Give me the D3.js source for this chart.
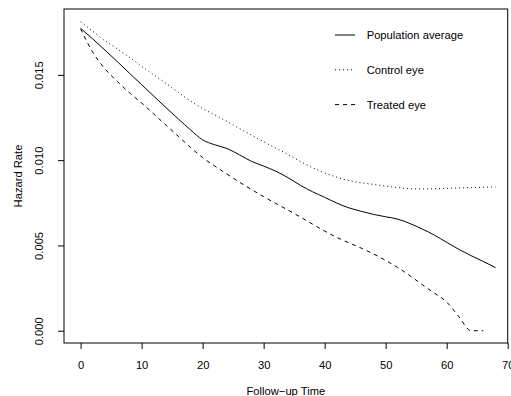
<!DOCTYPE html>
<meta charset="utf-8">
<head>
<style>
body{
	margin: 0;
	background: white;
}
text{
	font-family: "Liberation Sans", Arial, sans-serif;
	font-size: 11.2px;
	fill: black;
}
</style>
<script src="https://cdnjs.cloudflare.com/ajax/libs/d3/7.8.5/d3.min.js"></script>
</head>
<body>
<div id="vis-container"></div>
</body>
<script>
var time = [0, 2, 4, 6, 8, 10, 12, 14, 16, 18, 20, 22, 24, 26, 28, 30, 32, 34,
	36, 38, 40, 42, 44, 46, 48, 50, 52, 54, 56, 58, 60, 62, 64, 66, 68]

var populationAvg = [0.01773, 0.01710, 0.01645, 0.01578, 0.01510, 0.01442, 0.01375,
	0.01308, 0.01242, 0.01178, 0.01119, 0.01090, 0.01068, 0.01032, 0.00993, 0.00965,
	0.00935, 0.00897, 0.00853, 0.00815, 0.00782, 0.00748, 0.00720, 0.00700, 0.00682,
	0.00668, 0.00654, 0.00628, 0.00596, 0.00560, 0.00518, 0.00477, 0.00440, 0.00406,
	0.00370]

var controlEye = [0.01811, 0.01755, 0.01700, 0.01653, 0.01603, 0.01550, 0.01500,
	0.01450, 0.01398, 0.01347, 0.01302, 0.01265, 0.01227, 0.01186, 0.01147, 0.01108,
	0.01070, 0.01033, 0.00993, 0.00956, 0.00925, 0.00900, 0.00880, 0.00867, 0.00858,
	0.00848, 0.00839, 0.00833, 0.00831, 0.00832, 0.00835, 0.00837, 0.00839, 0.00841,
	0.00843]

var treatedEye = [0.01770, 0.01632, 0.01535, 0.01462, 0.01395, 0.01335, 0.01270,
	0.01205, 0.01140, 0.01075, 0.01015, 0.00965, 0.00918, 0.00872, 0.00828, 0.00786,
	0.00746, 0.00707, 0.00667, 0.00625, 0.00584, 0.00547, 0.00515, 0.00484, 0.00450,
	0.00412, 0.00370, 0.00322, 0.00270, 0.00220, 0.00168, 0.00082, 0.00000, 0.00000,
	null]

var xTicks = [0, 10, 20, 30, 40, 50, 60, 70]
var yTicks = [0.000, 0.005, 0.010, 0.015]

var seriesNames = ['Population average', 'Control eye', 'Treated eye']
var seriesDash = ['none', '1,3', '4,4']

var width = 511, height = 396
var box = {left: 64, right: 507.7, top: 9, bottom: 343}

var x = d3.scaleLinear().domain([-2.72, 70]).range([box.left, box.right])
var y = d3.scaleLinear().domain([-0.00072, 0.01886]).range([box.bottom, box.top])

var svg = d3.select('#vis-container').append('svg')
	.attr('width', width)
	.attr('height', height)

var xAxis = svg.append('g')
	.attr('transform', 'translate(0,' + box.bottom + ')')
	.call(d3.axisBottom(x).tickValues(xTicks).tickSize(6).tickPadding(12).tickSizeOuter(0))
xAxis.select('.domain').remove()

var yAxis = svg.append('g')
	.attr('transform', 'translate(' + box.left + ',0)')
	.call(d3.axisLeft(y).tickValues(yTicks).tickSize(6).tickFormat(d3.format('.3f')))
yAxis.select('.domain').remove()
yAxis.selectAll('text')
	.attr('transform', 'rotate(-90)')
	.attr('text-anchor', 'middle')
	.attr('x', 0)
	.attr('y', -20.7)
	.attr('dy', null)

svg.selectAll('.tick line').attr('stroke', 'black')
svg.selectAll('.tick text').style('font-size', '11.2px').style('font-family', '"Liberation Sans", Arial, sans-serif')

svg.append('rect')
	.attr('x', box.left)
	.attr('y', box.top)
	.attr('width', box.right - box.left)
	.attr('height', box.bottom - box.top)
	.attr('fill', 'none')
	.attr('stroke', 'black')

var allSeries = [populationAvg, controlEye, treatedEye]

for (var i = 0; i < allSeries.length; i ++){
	var values = allSeries[i]
	var line = d3.line()
		.defined(function(d, j) { return values[j] !== null })
		.x(function(d, j) { return x(time[j]) })
		.y(function(d, j) { return y(values[j]) })
		.curve(d3.curveMonotoneX)
	svg.append('path')
		.datum(values)
		.attr('d', line)
		.attr('fill', 'none')
		.attr('stroke', 'black')
		.attr('stroke-width', 1)
		.attr('stroke-dasharray', seriesDash[i])
}

svg.append('text')
	.attr('x', (box.left + box.right) / 2)
	.attr('y', 395)
	.attr('text-anchor', 'middle')
	.text('Follow\u2212up Time')

svg.append('text')
	.attr('transform', 'translate(21.7,' + ((box.top + box.bottom) / 2) + ') rotate(-90)')
	.attr('text-anchor', 'middle')
	.text('Hazard Rate')

var legendY = [35, 69.8, 104.6]
for (var i = 0; i < seriesNames.length; i ++){
	svg.append('line')
		.attr('x1', 335)
		.attr('x2', 355)
		.attr('y1', legendY[i])
		.attr('y2', legendY[i])
		.attr('stroke', 'black')
		.attr('stroke-dasharray', seriesDash[i])
	svg.append('text')
		.attr('x', 366.7)
		.attr('y', legendY[i])
		.attr('dy', '0.36em')
		.text(seriesNames[i])
}
</script>
</html>
